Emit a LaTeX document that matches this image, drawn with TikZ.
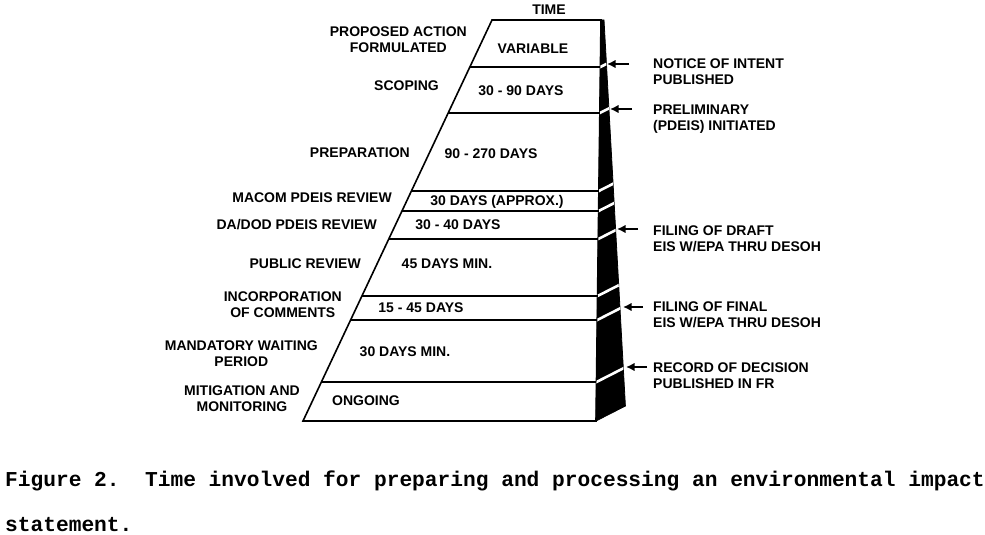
\documentclass[tikz,border=0pt]{standalone}
\usepackage{fontspec}
\setmainfont{Liberation Sans}
\newfontfamily\captionFont{Liberation Mono}
\usepackage{tikz}
\usetikzlibrary{arrows.meta}
\tikzstyle{chart} = [x = 1pt, y = -1pt]
\tikzstyle{faceLine} = [color=black, line width=1.6pt, line join=miter]
\tikzstyle{bandLine} = [color=black, line width=1.3pt]
\tikzstyle{gapLine} = [color=white, line width=2.6pt]
\tikzstyle{sideFace} = [fill=black, draw=black, line width=0.8pt]
\tikzstyle{labelFont} = [font=\bfseries\fontsize{14}{16}\selectfont, inner sep=0pt]
\tikzstyle{stageText} = [labelFont, align=center, anchor=east]
\tikzstyle{durationText} = [labelFont]
\tikzstyle{eventText} = [labelFont, align=left, anchor=west]
\tikzstyle{eventArrow} = [line width=2pt, -{Latex[length=8.5pt, width=8.5pt]}]
\tikzstyle{captionText} = [font=\captionFont\bfseries\fontsize{21.2}{45}\selectfont, align=left, inner sep=0pt, anchor=base west]
\newcommand{\leftEdge}[1]{492 - 0.4713 * (#1 - 20)}
\newcommand{\frontEdge}[1]{601 - 0.0125 * (#1 - 20)}
\newcommand{\sidePath}{(601,20) -- (604,20) -- (625.4,406) -- (596,421) -- cycle}
\newcommand{\boundary}[1]{
  \pgfmathsetmacro{\xLeft}{\leftEdge{#1}}
  \pgfmathsetmacro{\xFront}{\frontEdge{#1}}
  \draw [bandLine] (\xLeft, #1) -- (\xFront, #1);
}
\newcommand{\cutSide}[1]{
  \pgfmathsetmacro{\xFront}{\frontEdge{#1}}
  \draw [gapLine] (\xFront - 5, #1 + 2.55) -- +(45, -22.95);
}
\newcommand{\stage}[4]{\node [stageText] (#1) at (#2, #3) {#4};}
\newcommand{\eventMark}[6]{
  \coordinate (#1Tip) at (#2, #3);
  \coordinate (#1Tail) at (#4, #3);
  \draw [eventArrow] (#1Tail) -- (#1Tip);
  \node [eventText] (#1Text) at (653, #5) {#6};
}

\begin{document}
\begin{tikzpicture}[chart]
  \useasboundingbox (0,0) rectangle (985,535);
  \filldraw [sideFace] \sidePath;
  \draw [faceLine] (492,20) -- (601,20) -- (596,421) -- (303,421) -- cycle;
  \begin{scope}
    \clip \sidePath;
    \foreach \level in {67,113,191,211,239,296,320,382} {
      \cutSide{\level}
    }
  \end{scope}
  \foreach \level in {67,113,191,211,239,296,320,382} {
    \boundary{\level}
  }

  \node [durationText] (time) at (549,10) {TIME};
  \node [durationText] (variable) at (533,49) {VARIABLE};
  \node [durationText] (scopingDays) at (521,91) {30 - 90 DAYS};
  \node [durationText] (preparationDays) at (491,154) {90 - 270 DAYS};
  \node [durationText] (macomDays) at (497,202) {30 DAYS (APPROX.)};
  \node [durationText] (dadodDays) at (458,225) {30 - 40 DAYS};
  \node [durationText] (publicDays) at (447,264) {45 DAYS MIN.};
  \node [durationText] (commentsDays) at (421,308) {15 - 45 DAYS};
  \node [durationText] (waitingDays) at (405,352) {30 DAYS MIN.};
  \node [durationText] (ongoing) at (366,401) {ONGOING};

  \stage{proposed}{467}{40}{PROPOSED ACTION\\FORMULATED}
  \stage{scoping}{439}{85.5}{SCOPING}
  \stage{preparation}{410}{152.5}{PREPARATION}
  \stage{macom}{392}{197.5}{MACOM PDEIS REVIEW}
  \stage{dadod}{377}{224.5}{DA/DOD PDEIS REVIEW}
  \stage{public}{361}{263.5}{PUBLIC REVIEW}
  \stage{incorporation}{342}{305}{INCORPORATION\\OF COMMENTS}
  \stage{waiting}{318}{353.5}{MANDATORY WAITING\\PERIOD}
  \stage{mitigation}{300}{399}{MITIGATION AND\\MONITORING}

  \eventMark{notice}{607}{64}{629}{72}{NOTICE OF INTENT\\PUBLISHED}
  \eventMark{preliminary}{610}{109}{632}{119}{PRELIMINARY\\(PDEIS) INITIATED}
  \eventMark{draft}{617}{229}{638}{239}{FILING OF DRAFT\\EIS W/EPA THRU DESOH}
  \eventMark{final}{623}{307}{643}{314.5}{FILING OF FINAL\\EIS W/EPA THRU DESOH}
  \eventMark{record}{626}{367}{647}{375.5}{RECORD OF DECISION\\PUBLISHED IN FR}

  \node [captionText] (caption) at (5,531) {Figure 2.\ \ Time involved for preparing and processing an environmental impact\\statement.};
\end{tikzpicture}
\end{document}
